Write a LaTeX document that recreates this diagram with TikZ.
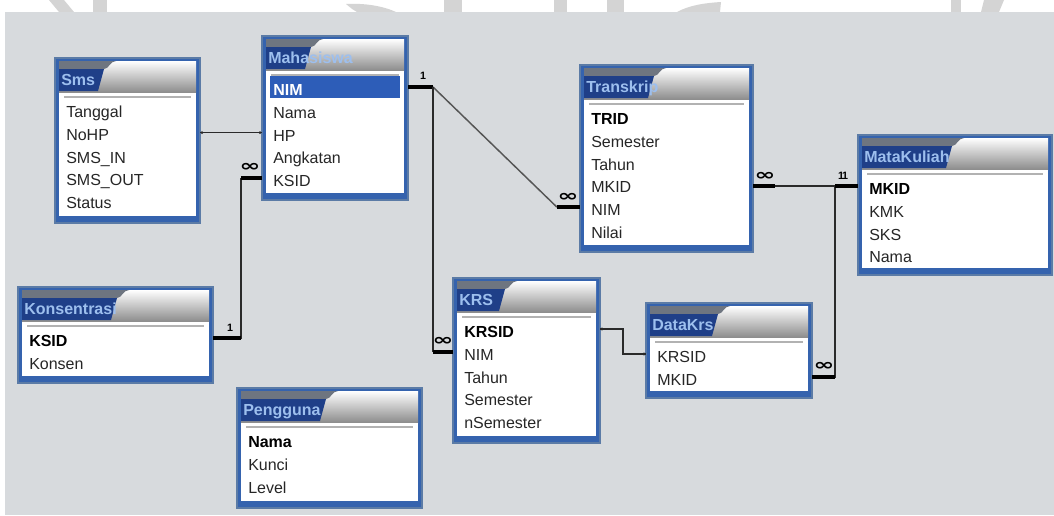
\documentclass[tikz,border=0pt]{standalone}
\usepackage{fontspec}
\setmainfont{Liberation Sans}
\newfontfamily\symfont{DejaVu Sans}
\usetikzlibrary{calc}

\definecolor{canvas}{HTML}{D7DADD}
\definecolor{framebl}{HTML}{3563AE}
\definecolor{frameedge}{HTML}{5B7BA6}
\definecolor{tabnavy}{HTML}{1F3F88}
\definecolor{tabgray}{HTML}{6E7580}
\definecolor{titleblue}{HTML}{9DBFEE}
\definecolor{selblue}{HTML}{2D5DB8}
\definecolor{linedark}{HTML}{2A2A2A}
\definecolor{wmgray}{HTML}{D4D4D4}
\definecolor{hdrgray}{HTML}{8A8A8A}

\tikzset{
  fld/.style={anchor=base west, inner sep=0pt, font=\fontsize{12}{14}\selectfont, text=black!85},
  pk/.style={fld, font=\fontsize{12}{14}\selectfont\bfseries, text=black},
  sel/.style={fld, font=\fontsize{12}{14}\selectfont\bfseries, text=white},
  fld bg/.style={},
  pk bg/.style={},
  sel bg/.style={fill=selblue},
  titletxt/.style={anchor=base west, inner sep=0pt, font=\fontsize{12}{14}\selectfont\bfseries, text=titleblue},
  tableframe/.style={anchor=north west, inner sep=0pt, outer sep=0pt, fill=framebl, draw=frameedge, line width=0.8pt},
  thinlink/.style={draw=linedark, line width=1.1pt},
  stub/.style={draw=black, line width=3pt},
  onelbl/.style={font=\fontsize{8}{9}\selectfont\bfseries, inner sep=0pt},
  manylbl/.style={font=\symfont\fontsize{11}{11}\selectfont\bfseries, inner sep=0pt},
  enddot/.style={fill=linedark, draw=none},
}

% wide, heavy "many" sign used on the relationship lines
\newcommand{\manysign}{\scalebox{1.7}[1.1]{∞}}

% \dbtable{id}{left}{top}{width}{height}{tab width}{title}{id/style/text, ...}
\newcommand{\dbtable}[8]{%
  \node[tableframe, minimum width=#4*0.75pt, minimum height=#5*0.75pt] (#1) at (#2,#3) {};
  % header: grey gradient with dark title tab
  \shade[top color=white, middle color=gray!40, bottom color=hdrgray]
    (#2+4,#3+3) rectangle (#2+#4-4,#3+35);
  \fill[tabgray] (#2+4,#3+3) -- (#2+#6+16,#3+3)
    .. controls (#2+#6+10,#3+3) and (#2+#6+9,#3+11) .. (#2+#6+4,#3+11)
    -- (#2+4,#3+11) -- cycle;
  \fill[tabnavy] (#2+4,#3+11) -- (#2+#6+4,#3+11) -- (#2+#6-2,#3+33) -- (#2+4,#3+33) -- cycle;
  \node[titletxt] (#1-title) at (#2+6,#3+27) {#7};
  % field list area
  \fill[white] (#2+4,#3+35) rectangle (#2+#4-4,#3+#5-7);
  \draw[gray!60, line width=0.8pt] (#2+9,#3+39) -- (#2+#4-9,#3+39);
  \foreach \fid/\fsty/\ftext [count=\i from 0] in {#8}{
    \coordinate (#1-\fid) at (#2,#3+51+\i*22.8);
    \path[\fsty\space bg] (#2+8,#3+40+\i*22.8) rectangle (#2+#4-8,#3+62+\i*22.8);
    \node[\fsty] (#1-\fid-t) at (#2+11,#3+59.5+\i*22.8) {\ftext};
  }%
}

\begin{document}
\begin{tikzpicture}[x=0.75pt, y=-0.75pt]
  \useasboundingbox (0,0) rectangle (1054,515);
  \fill[white] (0,0) rectangle (1054,515);
  % faint marks of the printed page above the window
  \fill[wmgray] (49,0) -- (64,0) -- (74,12) -- (59,12) -- cycle;
  \fill[wmgray] (93,0) rectangle (107,12);
  \fill[wmgray] (346,4) .. controls (365,3) and (383,6) .. (396,12) -- (357,12) .. controls (352,9) .. (346,4) -- cycle;
  \fill[wmgray] (444,0) rectangle (462,12);
  \fill[wmgray] (554,0) rectangle (567,12);
  \fill[wmgray] (607,0) rectangle (624,12);
  \fill[wmgray] (677,12) .. controls (690,5) and (705,3) .. (721,2) -- (720,12) -- cycle;
  \fill[wmgray] (951,0) rectangle (961,12);
  \fill[wmgray] (984,0) -- (1004,0) -- (999,12) -- (981,12) -- cycle;
  % window background
  \fill[canvas] (5,12) rectangle (1054,515);

  % tables
  \dbtable{sms}{55}{58}{145}{165}{45}{Sms}
    {tgl/fld/Tanggal, nohp/fld/NoHP, sin/fld/SMS\_IN, sout/fld/SMS\_OUT, status/fld/Status}
  \dbtable{mah}{262}{36}{146}{164}{45}{Mahasiswa}
    {nim/sel/NIM, nama/fld/Nama, hp/fld/HP, angk/fld/Angkatan, ksid/fld/KSID}
  \dbtable{trk}{580}{65}{173}{187}{70}{Transkrip}
    {trid/pk/TRID, sem/fld/Semester, thn/fld/Tahun, mkid/fld/MKID, nim/fld/NIM, nilai/fld/Nilai}
  \dbtable{mk}{858}{135}{194}{140}{90}{MataKuliah}
    {mkid/pk/MKID, kmk/fld/KMK, sks/fld/SKS, nama/fld/Nama}
  \dbtable{kon}{18}{287}{195}{96}{95}{Konsentrasi}
    {ksid/pk/KSID, konsen/fld/Konsen}
  \dbtable{pgn}{237}{388}{185}{120}{85}{Pengguna}
    {nama/pk/Nama, kunci/fld/Kunci, level/fld/Level}
  \dbtable{krs}{453}{278}{147}{165}{48}{KRS}
    {krsid/pk/KRSID, nim/fld/NIM, thn/fld/Tahun, sem/fld/Semester, nsem/fld/nSemester}
  \dbtable{dk}{646}{303}{166}{95}{68}{DataKrs}
    {krsid/fld/KRSID, mkid/fld/MKID}

  % Sms -- Mahasiswa (HP)
  \draw[thinlink] (sms.east |- mah-hp) -- (mah-hp);
  \fill[enddot] (sms.east |- mah-hp) ++(2,0) circle (1.6);
  \fill[enddot] (mah-hp) ++(-2,0) circle (1.6);

  % Konsentrasi 1 -- many Mahasiswa (KSID)
  \coordinate (ksidbend) at ($(mah-ksid)+(-21,0)$);
  \draw[thinlink] (ksidbend) |- (kon.east |- kon-ksid);
  \draw[stub] (mah-ksid) -- (ksidbend);
  \draw[stub] (kon.east |- kon-ksid) -- ++(28,0);
  \node[manylbl] (lbl-mah-ksid) at ($(mah-ksid)+(-12,-11)$) {\manysign};
  \node[onelbl] (lbl-kon-ksid) at ($(kon.east |- kon-ksid)+(17,-10)$) {1};

  % Mahasiswa 1 -- many Transkrip / KRS (NIM)
  \coordinate (nimbend) at ($(mah.east |- mah-nim)+(25,0)$);
  \coordinate (trkjoin) at ($(trk-nim)+(-23,0)$);
  \coordinate (krsjoin) at ($(krs-nim)+(-20,0)$);
  \draw[stub] (mah.east |- mah-nim) -- (nimbend);
  \draw[thinlink, draw=linedark!80] (nimbend) -- (trkjoin);
  \draw[thinlink] (nimbend) |- (krsjoin);
  \draw[stub] (trkjoin) -- (trk-nim);
  \draw[stub] (krsjoin) -- (krs-nim);
  \node[onelbl] (lbl-mah-nim) at ($(mah.east |- mah-nim)+(15,-11)$) {1};
  \node[manylbl] (lbl-trk-nim) at ($(trk-nim)+(-12,-10)$) {\manysign};
  \node[manylbl] (lbl-krs-nim) at ($(krs-nim)+(-10,-10)$) {\manysign};

  % MataKuliah 1 -- many Transkrip / DataKrs (MKID)
  \coordinate (mkbend) at ($(mk-mkid)+(-23,0)$);
  \draw[thinlink] (trk.east |- mk-mkid) -- (mkbend);
  \draw[thinlink] (mkbend) |- (dk.east |- dk-mkid);
  \draw[stub] (trk.east |- mk-mkid) -- ++(22,0);
  \draw[stub] (mkbend) -- (mk-mkid);
  \draw[stub] (dk.east |- dk-mkid) -- (mkbend |- dk-mkid);
  \node[manylbl] (lbl-trk-mkid) at ($(trk.east |- mk-mkid)+(12,-10)$) {\manysign};
  \node[onelbl] (lbl-mk-mkid-a) at ($(mkbend)+(6,-10)$) {1};
  \node[onelbl] (lbl-mk-mkid-b) at ($(mkbend)+(10,-10)$) {1};
  \node[manylbl] (lbl-dk-mkid) at ($(dk.east |- dk-mkid)+(12,-10)$) {\manysign};

  % KRS -- DataKrs (KRSID)
  \draw[thinlink] (krs.east |- krs-krsid) -- ++(23,0) |- (dk-krsid);
  \fill[enddot] (krs.east |- krs-krsid) ++(2,0) circle (1.6);
  \fill[enddot] (dk-krsid) ++(-2,0) circle (1.6);
\end{tikzpicture}
\end{document}
